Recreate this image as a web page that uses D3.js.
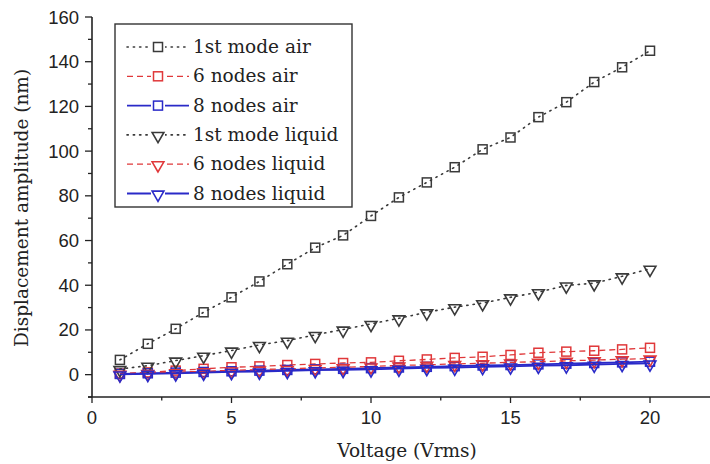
<!DOCTYPE html>
<html><head><meta charset="utf-8">
<script src="https://cdn.jsdelivr.net/npm/d3@7"></script>
<style>body{margin:0;background:#fff}svg{display:block}</style>
</head><body>
<svg id="c" width="710" height="464"></svg>
<script>
const voltage = [1,2,3,4,5,6,7,8,9,10,11,12,13,14,15,16,17,18,19,20];
const firstModeAir = [6.6,13.8,20.5,27.9,34.6,41.7,49.4,56.8,62.3,71.0,79.3,86.0,92.8,100.8,106.1,115.2,121.9,130.9,137.5,144.9];
const sixNodesAir = [0.5,1.0,1.8,2.6,3.3,3.7,4.3,4.8,5.2,5.5,6.2,6.8,7.5,8.0,8.8,9.8,10.3,10.7,11.3,12.0];
const eightNodesAir = [0.3,0.6,0.9,1.2,1.5,1.8,2.1,2.4,2.6,2.9,3.2,3.5,3.8,4.1,4.3,4.6,4.9,5.2,5.5,5.8];
const firstModeLiquid = [2.5,4.0,6.3,8.5,10.8,13.3,15.2,17.8,20.2,22.7,25.2,27.9,30.2,32.0,34.6,36.9,39.9,40.9,44.0,47.4];
const sixNodesLiquid = [0.4,0.8,1.1,1.5,1.9,2.3,2.6,3.0,3.3,3.7,4.1,4.4,4.8,5.1,5.5,5.8,6.2,6.5,6.9,7.2];
const eightNodesLiquid = [0.1,0.4,0.6,0.9,1.2,1.4,1.7,2.0,2.2,2.4,2.7,3.0,3.2,3.5,3.7,4.0,4.2,4.5,4.8,5.0];
const seriesNames = ["1st mode air","6 nodes air","8 nodes air","1st mode liquid","6 nodes liquid","8 nodes liquid"];
const xTicks = [0,5,10,15,20];
const yTicks = [0,20,40,60,80,100,120,140,160];
const xLabel = "Voltage (Vrms)";
const yLabel = "Displacement amplitude (nm)";

const series = [
  {name:seriesNames[0], vals:firstModeAir, color:"#3a3a3a", dash:"1.3,5", sym:"sq", w:1.6},
  {name:seriesNames[1], vals:sixNodesAir, color:"#e0383a", dash:"6,4", sym:"sq", w:1.3},
  {name:seriesNames[2], vals:eightNodesAir, color:"#2a2ac8", dash:null, sym:"sq", w:1.8},
  {name:seriesNames[3], vals:firstModeLiquid, color:"#3a3a3a", dash:"1.3,5", sym:"tri", w:1.6},
  {name:seriesNames[4], vals:sixNodesLiquid, color:"#e0383a", dash:"6,4", sym:"tri", w:1.3},
  {name:seriesNames[5], vals:eightNodesLiquid, color:"#2a2ac8", dash:null, sym:"tri", w:1.8}
];

const svg = d3.select("#c");
const x = d3.scaleLinear().domain([0,22.15]).range([92,710]);
const y = d3.scaleLinear().domain([-10,160]).range([397,17]);
const axisCol = "#222";

// axes lines
svg.append("line").attr("x1",92).attr("x2",92).attr("y1",y(160)).attr("y2",y(-10)).attr("stroke",axisCol).attr("stroke-width",1.6);
svg.append("line").attr("x1",88).attr("x2",710).attr("y1",y(-10)).attr("y2",y(-10)).attr("stroke",axisCol).attr("stroke-width",1.6);

// y ticks
const yMinor = d3.range(-10,161,10);
svg.selectAll(".ym").data(yMinor).enter().append("line")
  .attr("x1",d=> d%20===0 ? 85 : 88).attr("x2",92)
  .attr("y1",d=>y(d)).attr("y2",d=>y(d)).attr("stroke",axisCol).attr("stroke-width",1.3);
svg.selectAll(".yl").data(yTicks).enter().append("text")
  .attr("x",79).attr("y",d=>y(d)+6.5).attr("text-anchor","end")
  .attr("font-family","Liberation Sans, Arial, sans-serif").attr("font-size",18.5).attr("fill","#222")
  .text(d=>d);

// x ticks
const xMinor = d3.range(0,22.1,2.5);
svg.selectAll(".xm").data(xMinor).enter().append("line")
  .attr("x1",d=>x(d)).attr("x2",d=>x(d)).attr("y1",y(-10))
  .attr("y2",d=> d%5===0 ? y(-10)+6 : y(-10)+3.5).attr("stroke",axisCol).attr("stroke-width",1.3);
svg.selectAll(".xl").data(xTicks).enter().append("text")
  .attr("x",d=>x(d)).attr("y",424).attr("text-anchor","middle")
  .attr("font-family","Liberation Sans, Arial, sans-serif").attr("font-size",18.5).attr("fill","#222")
  .text(d=>d);

// titles
svg.append("text").attr("x",407).attr("y",457).attr("text-anchor","middle")
  .attr("font-family","DejaVu Serif, serif").attr("font-size",18.5).attr("fill","#222").text(xLabel);
svg.append("text").attr("transform","translate(28,208) rotate(-90)").attr("text-anchor","middle")
  .attr("font-family","DejaVu Serif, serif").attr("font-size",18.5).attr("fill","#222").text(yLabel);

function marker(g, s, cx, cy){
  if(s.sym==="sq"){
    g.append("rect").attr("x",cx-4.5).attr("y",cy-4.5).attr("width",9).attr("height",9)
      .attr("fill","none").attr("stroke",s.color).attr("stroke-width",1.5);
  } else {
    g.append("path").attr("d",d3.symbol(d3.symbolTriangle,60)())
      .attr("transform",`translate(${cx},${cy+1}) rotate(180)`)
      .attr("fill","none").attr("stroke",s.color).attr("stroke-width",1.6);
  }
}

const line = d3.line().x((d,i)=>x(voltage[i])).y(d=>y(d));
series.forEach(s=>{
  const g = svg.append("g");
  g.append("path").attr("d",line(s.vals)).attr("fill","none").attr("stroke",s.color)
    .attr("stroke-width",s.w).attr("stroke-dasharray",s.dash).attr("stroke-linecap",s.dash==="1.3,5"?"round":"butt");
  s.vals.forEach((v,i)=>marker(g,s,x(voltage[i]),y(v)));
});

// legend
const lg = svg.append("g");
lg.append("rect").attr("x",115).attr("y",24).attr("width",237).attr("height",183)
  .attr("fill","#fff").attr("stroke","#333").attr("stroke-width",1.4);
series.forEach((s,i)=>{
  const cy = 47 + i*29.3;
  lg.append("line").attr("x1",127).attr("x2",189).attr("y1",cy).attr("y2",cy)
    .attr("stroke",s.color).attr("stroke-width",s.w).attr("stroke-dasharray",s.dash)
    .attr("stroke-linecap",s.dash==="1.3,5"?"round":"butt");
  lg.append("rect").attr("x",151).attr("y",cy-7).attr("width",14).attr("height",14).attr("fill","#fff");
  marker(lg,s,158,cy);
  lg.append("text").attr("x",193).attr("y",cy+6).attr("font-family","DejaVu Serif, serif")
    .attr("font-size",18.5).attr("fill","#222").text(s.name);
});
</script>
</body></html>
